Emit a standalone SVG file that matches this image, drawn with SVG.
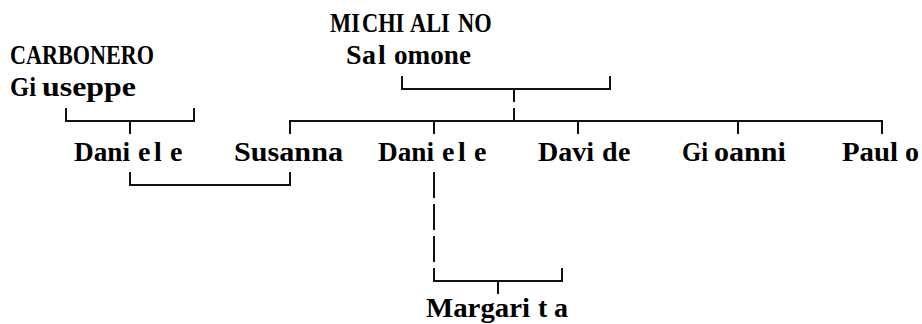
<svg xmlns="http://www.w3.org/2000/svg" width="922" height="324" viewBox="0 0 922 324">
<style>
  .t { font-family: "Liberation Serif", "Times New Roman", serif; font-size: 28px; font-weight: bold; fill: #000; }
  .c { fill: none; stroke: #111; stroke-width: 2; stroke-linecap: butt; stroke-linejoin: miter; }
</style>
<rect width="922" height="324" fill="#fff"/>
<g id="connectors" class="c">
  <path d="M402,76 V89 H610 V76"/>
  <path d="M514,89 V102"/>
  <path d="M66,108 V121 H194 V108"/>
  <path d="M130,121 V134"/>
  <path d="M290,134 V121 H882 V134"/>
  <path d="M514,108 V121"/>
  <path d="M434,121 V134"/>
  <path d="M578,121 V134"/>
  <path d="M738,121 V134"/>
  <path d="M130,172 V185 H290 V172"/>
  <path d="M434,172 V198"/>
  <path d="M434,204 V230"/>
  <path d="M434,236 V262"/>
  <path d="M434,268 V281 H562 V268"/>
  <path d="M498,281 V294"/>
</g>
<g id="michialino-salomone">
  <text class="t" y="32" transform="scale(0.8,1)"><tspan x="412.5">MI</tspan><tspan x="452.5">CHI</tspan><tspan x="512.5">ALI</tspan><tspan x="572.5">NO</tspan></text>
  <text class="t" y="64"><tspan x="346 362 378">Sal</tspan><tspan x="394" textLength="77" lengthAdjust="spacingAndGlyphs">omone</tspan></text>
</g>
<g id="carbonero-giuseppe">
  <text class="t" x="10" y="64" textLength="144" lengthAdjust="spacingAndGlyphs">CARBONERO</text>
  <text class="t" y="96"><tspan x="10" textLength="26" lengthAdjust="spacingAndGlyphs">Gi</tspan><tspan x="42" textLength="94" lengthAdjust="spacingAndGlyphs">useppe</tspan></text>
</g>
<g id="daniele-carbonero">
  <text class="t" y="161"><tspan x="74" textLength="56" lengthAdjust="spacingAndGlyphs">Dani</tspan><tspan x="138 154">el</tspan><tspan x="170">e</tspan></text>
</g>
<g id="susanna">
  <text class="t" x="234" y="161" textLength="109" lengthAdjust="spacingAndGlyphs">Susanna</text>
</g>
<g id="daniele-michialino">
  <text class="t" y="161"><tspan x="378" textLength="56" lengthAdjust="spacingAndGlyphs">Dani</tspan><tspan x="442 458">el</tspan><tspan x="474">e</tspan></text>
</g>
<g id="davide">
  <text class="t" y="161"><tspan x="538" textLength="56" lengthAdjust="spacingAndGlyphs">Davi</tspan><tspan x="602 618">de</tspan></text>
</g>
<g id="gioanni">
  <text class="t" y="161"><tspan x="682" textLength="26" lengthAdjust="spacingAndGlyphs">Gi</tspan><tspan x="714" textLength="72" lengthAdjust="spacingAndGlyphs">oanni</tspan></text>
</g>
<g id="paulo">
  <text class="t" y="161"><tspan x="842" textLength="56" lengthAdjust="spacingAndGlyphs">Paul</tspan><tspan x="905">o</tspan></text>
</g>
<g id="margarita">
  <text class="t" y="317"><tspan x="426" textLength="104" lengthAdjust="spacingAndGlyphs">Margari</tspan><tspan x="538 554">ta</tspan></text>
</g>
</svg>
